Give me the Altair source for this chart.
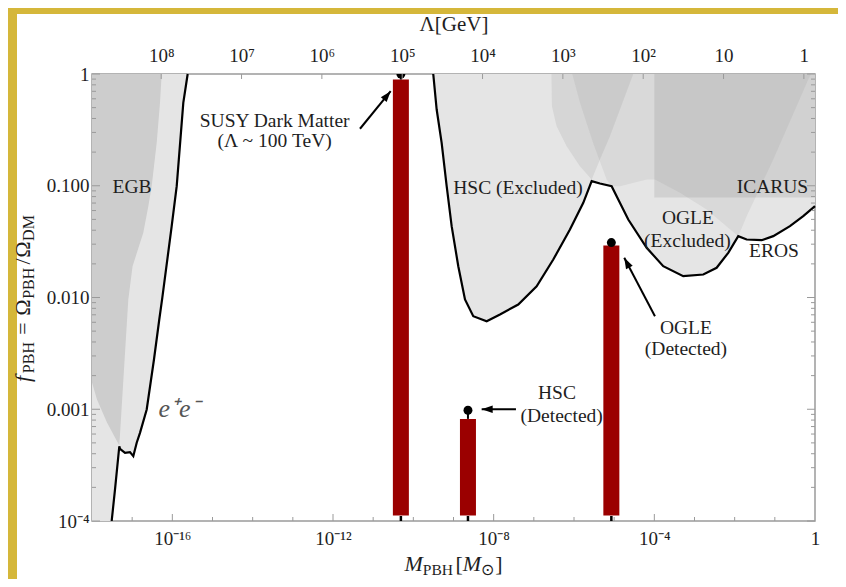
import altair as alt
import pandas as pd

# ---------------- values (log10 units) ----------------
# x : log10(M_PBH / M_sun)      y : log10(f_PBH)
EE_LOGM = [-17.510, -17.427, -17.320, -17.303, -17.178, -17.054, -16.972, -16.887,
           -16.805, -16.638, -16.457, -16.325, -16.250, -16.016, -15.891, -15.727, -15.618]
EE_LOGF = [-4.0, -3.718, -3.331, -3.354, -3.390, -3.384, -3.420, -3.300,
           -3.211, -3.002, -2.555, -2.197, -2.003, -1.362, -1.004, -0.258, 0.0]

HSC_LOGM = [-9.504, -9.419, -9.295, -9.170, -9.046, -8.881, -8.714, -8.508, -8.174, -7.843,
            -7.388, -6.930, -6.516, -6.101, -5.769, -5.560, -5.354, -5.063, -4.898, -4.649,
            -4.191, -3.778, -3.280, -2.782, -2.449, -2.160, -1.911, -1.702, -1.328, -1.040,
            -0.624, -0.293, 0.0]
HSC_LOGF = [0.0, -0.318, -0.616, -1.004, -1.362, -1.720, -2.018, -2.167, -2.212, -2.152,
            -2.063, -1.899, -1.660, -1.392, -1.153, -0.959, -0.980, -1.004, -1.123, -1.302,
            -1.555, -1.720, -1.809, -1.794, -1.734, -1.600, -1.451, -1.481, -1.487, -1.451,
            -1.362, -1.272, -1.183]

EGB_LOGM = [-18.0, -17.876, -17.627, -17.320, -17.096, -16.990, -16.723, -16.598,
            -16.514, -16.389, -16.307, -16.265]
EGB_LOGF = [-2.761, -2.913, -3.119, -3.324, -2.018, -1.720, -1.421, -1.183,
            -1.004, -0.616, -0.258, 0.0]

MICRO_LOGM = [-6.043, -5.852, -5.528, -5.187, -5.063, -4.856, -4.191, -3.985, -3.362,
              -2.697, -1.911, -1.702, -1.040, -0.168, -0.101]
MICRO_LOGF = [0.0, -0.255, -0.613, -0.944, -1.004, -1.004, -0.944, -0.944, -1.063,
              -1.213, -1.451, -1.272, -0.765, -0.049, 0.0]

BOWL_LOGM = [-6.561, -6.549, -6.432, -6.183, -5.852, -5.560, -5.354, -5.105, -4.856, -4.525]
BOWL_LOGF = [0.0, -0.288, -0.467, -0.647, -0.825, -0.944, -0.765, -0.557, -0.318, 0.0]

ICARUS_LOGM = [-4.0, 0.0]
ICARUS_LOGF = [-1.105, 0.0]

BAR_NAMES = ["SUSY", "HSC", "OGLE"]
BAR_LOGM = [-10.31, -8.64, -5.07]
BAR_TOP = [0.893, 8.2e-4, 0.0292]
BAR_DOT = [1.0, 9.8e-4, 0.031]
BAR_BOTTOM = 1.12e-4

ARROW_TAIL_LOGM = [-11.328, -7.445, -3.985]
ARROW_TAIL_LOGF = [-0.490, -3.0, -2.167]
ARROW_TIP_LOGM = [-10.564, -8.299, -4.749]
ARROW_TIP_LOGF = [-0.154, -3.0, -1.645]
ARROW_ANGLE = [39.2, 270.0, 332.3]

LABEL_TEXT = ["SUSY Dark Matter", "(Λ ~ 100 TeV)", "HSC", "(Detected)", "OGLE", "(Detected)",
              "HSC (Excluded)", "OGLE", "(Excluded)", "ICARUS", "EROS", "EGB"]
LABEL_LOGM = [-13.452, -13.452, -6.424, -6.307, -3.213, -3.213, -7.395, -3.163, -3.176,
              -1.060, -1.022, -17.004]
LABEL_LOGF = [-0.422, -0.601, -2.859, -3.062, -2.271, -2.465, -1.018, -1.287, -1.490,
              -1.013, -1.586, -1.009]
EE_LABEL = ["e⁺e⁻"]
EE_LABEL_LOGM = [-15.834]
EE_LABEL_LOGF = [-3.002]

# top axis: log10 M = LAM_A - 2 log10 Lambda
LAM_A = -0.277
LAM_TICKS = [1, 10, 100, 1e3, 1e4, 1e5, 1e6, 1e7, 1e8]
TOP_LABELS = ["1", "10", "10²", "10³", "10⁴", "10⁵", "10⁶", "10⁷", "10⁸"]

X_TICK_VALUES = [1e-16, 1e-12, 1e-8, 1e-4, 1]
Y_TICK_VALUES = [1e-4, 1e-3, 1e-2, 1e-1, 1]
Y_LABELS = ["10⁻⁴", "0.001", "0.010", "0.100", "1"]

# ---------------- style ----------------
W, H = 723, 447
SERIF = "Liberation Serif"
INK = "#1e1e1e"
FRAME = "#9a9a9a"
RED = "#9b0000"
LIGHT = "#e5e5e5"
EGB_GRAY = "#cdcdcd"
YELLOW = "#d5b73a"
ANN_SIZE = 19.5
TICK_SIZE = 19

SUP = str.maketrans("0123456789-", "⁰¹²³⁴⁵⁶⁷⁸⁹⁻")
bottom_labels = ["1"] + ["10" + ("-" + str(k)).translate(SUP) for k in range(1, 19)]
X_EXPR = "[" + ",".join("'%s'" % s for s in bottom_labels) + "][round(-log(datum.value)/LN10)]"
TOP_EXPR = "[" + ",".join("'%s'" % s for s in TOP_LABELS) + "][round(log(datum.value)/LN10)]"
Y_EXPR = ("datum.value < 0.0005 ? '%s' : datum.value < 0.005 ? '%s' : datum.value < 0.05 ? '%s' : "
          "datum.value < 0.5 ? '%s' : '%s'") % tuple(Y_LABELS)

XSCALE = alt.Scale(type="log", domain=[1e-18, 1], nice=False)
YSCALE = alt.Scale(type="log", domain=[1e-4, 1], nice=False)
XAXIS = alt.Axis(values=X_TICK_VALUES, labelExpr=X_EXPR, ticks=False, domain=False, grid=False,
                 title=None, labelFont=SERIF, labelFontSize=TICK_SIZE, labelColor=INK,
                 labelPadding=8, labelFlush=False, labelOverlap=False)
YAXIS = alt.Axis(values=Y_TICK_VALUES, labelExpr=Y_EXPR, ticks=False, domain=False, grid=False,
                 title=None, labelFont=SERIF, labelFontSize=TICK_SIZE, labelColor=INK,
                 labelPadding=3, labelFlush=False, labelOverlap=False)


def X(f):
    return alt.X(f + ":Q", scale=XSCALE, axis=XAXIS)


def Y(f):
    return alt.Y(f + ":Q", scale=YSCALE, axis=YAXIS)


def curve_df(logm, logf):
    return pd.DataFrame({"M": [10 ** v for v in logm], "f": [10 ** v for v in logf],
                         "ceil": [1.0] * len(logm), "i": list(range(len(logm)))})


ee_df = curve_df(EE_LOGM, EE_LOGF)
ee_fill_df = curve_df([-18.0] + EE_LOGM, [-4.0] + EE_LOGF)
hsc_df = curve_df(HSC_LOGM, HSC_LOGF)
egb_df = curve_df(EGB_LOGM, EGB_LOGF)
micro_df = curve_df(MICRO_LOGM, MICRO_LOGF)
bowl_df = curve_df(BOWL_LOGM, BOWL_LOGF)
icarus_df = pd.DataFrame({"M": [10 ** ICARUS_LOGM[0]], "M2": [10 ** ICARUS_LOGM[1]],
                          "f": [10 ** ICARUS_LOGF[0]], "f2": [10 ** ICARUS_LOGF[1]]})

bars_df = pd.DataFrame({"name": BAR_NAMES, "M": [10 ** v for v in BAR_LOGM], "top": BAR_TOP,
                        "dot": BAR_DOT, "bottom": BAR_BOTTOM})
arrows_df = pd.DataFrame({"tailM": [10 ** v for v in ARROW_TAIL_LOGM],
                          "tailf": [10 ** v for v in ARROW_TAIL_LOGF],
                          "tipM": [10 ** v for v in ARROW_TIP_LOGM],
                          "tipf": [10 ** v for v in ARROW_TIP_LOGF], "ang": ARROW_ANGLE})
labels_df = pd.DataFrame({"text": LABEL_TEXT, "M": [10 ** v for v in LABEL_LOGM],
                          "f": [10 ** v for v in LABEL_LOGF]})
ee_label_df = pd.DataFrame({"text": EE_LABEL, "M": [10 ** v for v in EE_LABEL_LOGM],
                            "f": [10 ** v for v in EE_LABEL_LOGF]})

y_major = Y_TICK_VALUES
y_minor = [k * 10.0 ** e for e in range(-4, 0) for k in range(2, 10)]
x_dec = [10.0 ** e for e in range(-17, 0)]
x_major = [v for v in x_dec if any(abs(v / t - 1) < 1e-6 for t in X_TICK_VALUES)]
x_minor = [v for v in x_dec if v not in x_major]
one = pd.DataFrame({"a": [0]})

layers = []
# yellow page border (pixel layout)
layers.append(alt.Chart(one).mark_rect(color=YELLOW).encode(
    x=alt.value(-84), x2=alt.value(-75), y=alt.value(-66), y2=alt.value(520)))
layers.append(alt.Chart(one).mark_rect(color=YELLOW).encode(
    x=alt.value(-84), x2=alt.value(760), y=alt.value(-66), y2=alt.value(-60)))


def region(df_, color, opacity=1.0):
    return alt.Chart(df_).mark_area(color=color, opacity=opacity).encode(
        x=X("M"), y=Y("f"), y2=alt.Y2("ceil"))


# excluded regions
layers.append(region(ee_fill_df, LIGHT))
layers.append(region(hsc_df, LIGHT))
layers.append(region(egb_df, EGB_GRAY))
layers.append(region(micro_df, "#808080", 0.12))
layers.append(region(bowl_df, "#808080", 0.15))
layers.append(alt.Chart(icarus_df).mark_rect(color="#808080", opacity=0.2).encode(
    x=X("M"), x2=alt.X2("M2"), y=Y("f"), y2=alt.Y2("f2")))

# bounding curves
layers.append(alt.Chart(ee_df).mark_line(color="black", strokeWidth=2.2).encode(
    x=X("M"), y=Y("f"), order="i:Q"))
layers.append(alt.Chart(hsc_df).mark_line(color="black", strokeWidth=2.2).encode(
    x=X("M"), y=Y("f"), order="i:Q"))

# detections
layers.append(alt.Chart(bars_df).mark_rule(color=RED, strokeWidth=16).encode(
    x=X("M"), y=Y("top"), y2=alt.Y2("bottom")))
layers.append(alt.Chart(bars_df).mark_rule(color="black", strokeWidth=2).encode(
    x=X("M"), y=Y("dot"), y2=alt.Y2("top")))
layers.append(alt.Chart(bars_df).mark_rule(color="black", strokeWidth=2.5).encode(
    x=X("M"), y=alt.value(H), y2=alt.value(H - 5)))
layers.append(alt.Chart(bars_df).mark_circle(color="black", size=80, opacity=1, clip=True).encode(
    x=X("M"), y=Y("dot")))

# arrows
ARROW_PATH = "M0,0 L-0.75,2.2 L0.75,2.2 Z"
layers.append(alt.Chart(arrows_df).mark_rule(color="black", strokeWidth=2).encode(
    x=X("tailM"), y=Y("tailf"), x2=alt.X2("tipM"), y2=alt.Y2("tipf")))
layers.append(alt.Chart(arrows_df).mark_point(shape=ARROW_PATH, filled=True, color="black",
                                              size=100, opacity=1, strokeWidth=0).encode(
    x=X("tipM"), y=Y("tipf"), angle=alt.Angle("ang:Q", scale=None)))

# text annotations
layers.append(alt.Chart(labels_df).mark_text(font=SERIF, fontSize=ANN_SIZE, color=INK,
                                             align="center", baseline="middle").encode(
    x=X("M"), y=Y("f"), text="text:N"))
layers.append(alt.Chart(ee_label_df).mark_text(font=SERIF, fontSize=26, fontStyle="italic",
                                               color="#555555", align="center",
                                               baseline="middle").encode(
    x=X("M"), y=Y("f"), text="text:N"))

# inward frame ticks
ym = pd.DataFrame({"f": y_major})
yn = pd.DataFrame({"f": y_minor})
for df_, ln in ((ym, 8), (yn, 4)):
    layers.append(alt.Chart(df_).mark_rule(color=FRAME, strokeWidth=1).encode(
        y=Y("f"), x=alt.value(0), x2=alt.value(ln)))
    layers.append(alt.Chart(df_).mark_rule(color=FRAME, strokeWidth=1).encode(
        y=Y("f"), x=alt.value(W), x2=alt.value(W - ln)))
xm = pd.DataFrame({"M": x_major})
xn = pd.DataFrame({"M": x_minor})
for df_, ln in ((xm, 7), (xn, 4)):
    layers.append(alt.Chart(df_).mark_rule(color=FRAME, strokeWidth=1).encode(
        x=X("M"), y=alt.value(H), y2=alt.value(H - ln)))

# axis titles with subscripts (text layout); pieces: text, size, italic, subscript, gap-after(em)
WR = {"M": 0.889, "P": 0.556, "B": 0.667, "H": 0.722, "[": 0.333, "]": 0.333,
      "=": 0.564, "/": 0.3, "D": 0.722, "Ω": 0.768, "⊙": 0.84}
WI = {"M": 0.833, "f": 0.40}


def pw(s, size, italic, sub):
    w = sum((WI.get(c) if italic and c in WI else WR.get(c, 0.6)) for c in s) * size
    return w * (1.08 if sub else 1.0)


def title_layers(pieces, horizontal):
    total = sum(pw(s, sz, it, sb) + gap * sz for s, sz, it, sb, gap in pieces)
    out = []
    cum = 0.0
    for s, sz, it, sb, gap in pieces:
        if horizontal:
            xx = W / 2 - total / 2 + cum
            yy = 497 + (4 if sb else 0)
            mk = dict(align="left", baseline="alphabetic")
        else:
            xx = -62 + (4 if sb else 0)
            yy = H / 2 + total / 2 - cum
            mk = dict(align="left", baseline="alphabetic", angle=270)
        out.append(alt.Chart(one).mark_text(text=s, font=SERIF, fontSize=sz, color=INK,
                                            fontStyle="italic" if it else "normal", **mk).encode(
            x=alt.value(xx), y=alt.value(yy)))
        cum += pw(s, sz, it, sb) + gap * sz
    return out


layers += title_layers([("M", 22, True, False, 0.0), ("PBH", 15.5, False, True, 0.0),
                        ("[", 22, False, False, 0.0), ("M", 22, True, False, 0.0),
                        ("⊙", 15.5, False, True, 0.0), ("]", 22, False, False, 0.0)], True)
layers += title_layers([("f", 22, True, False, 0.0), ("PBH", 16, False, True, 0.3),
                        ("=", 22, False, False, 0.3), ("Ω", 22, False, False, 0.0),
                        ("PBH", 16, False, True, 0.05), ("/", 22, False, False, 0.0),
                        ("Ω", 22, False, False, 0.0), ("DM", 16, False, True, 0.0)], False)

base = alt.layer(*layers)

# top Lambda axis
lam_left = 10 ** ((LAM_A + 18) / 2)
lam_right = 10 ** (LAM_A / 2)
lam_df = pd.DataFrame({"lam": LAM_TICKS})
top = alt.Chart(lam_df).mark_rule(color=FRAME, strokeWidth=1).encode(
    x=alt.X("lam:Q",
            scale=alt.Scale(type="log", domain=[lam_right, lam_left], reverse=True, nice=False),
            axis=alt.Axis(orient="top", values=LAM_TICKS, labelExpr=TOP_EXPR, ticks=False,
                          domain=False, grid=False, title="Λ[GeV]", titleFont=SERIF,
                          titleFontSize=21, titleFontWeight="normal", titleColor=INK,
                          titlePadding=12, labelFont=SERIF, labelFontSize=TICK_SIZE,
                          labelColor=INK, labelPadding=9, labelFlush=False,
                          labelOverlap=False)),
    y=alt.value(0), y2=alt.value(5))

chart = alt.layer(base, top).resolve_scale(x="independent").properties(
    width=W, height=H, background="white",
    padding={"left": 84, "top": 66, "right": 23, "bottom": 58},
    autosize=alt.AutoSizeParams(type="none"),
).configure_view(stroke=FRAME, strokeWidth=1.5)

chart.save("out.html", embed_options={"renderer": "svg", "actions": False})
